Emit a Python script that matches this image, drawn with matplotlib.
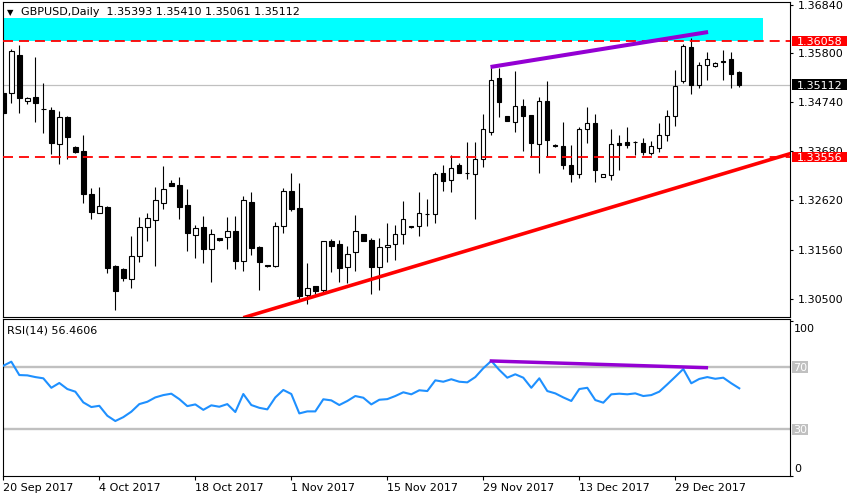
import matplotlib
matplotlib.use("Agg")
import matplotlib.pyplot as plt
from matplotlib.patches import Rectangle
from matplotlib.transforms import blended_transform_factory
import numpy as np

plt.rcParams['font.family'] = ['DejaVu Sans']
plt.rcParams['font.size'] = 8
plt.rcParams['lines.scale_dashes'] = False

# GBPUSD daily candles (oldest first)
opens = [1.3494, 1.3493, 1.3576, 1.3476, 1.3484, 1.3460, 1.3457, 1.3383, 1.3442, 1.3378,
         1.3369, 1.3275, 1.3234, 1.3247, 1.3120, 1.3114, 1.3092, 1.3141, 1.3204, 1.3220,
         1.3256, 1.3299, 1.3295, 1.3252, 1.3188, 1.3205, 1.3157, 1.3180, 1.3182, 1.3197,
         1.3131, 1.3258, 1.3161, 1.3122, 1.3120, 1.3206, 1.3282, 1.3245, 1.3059, 1.3077,
         1.3068, 1.3174, 1.3167, 1.3118, 1.3150, 1.3189, 1.3176, 1.3118, 1.3161, 1.3167,
         1.3189, 1.3206, 1.3206, 1.3233, 1.3232, 1.3321, 1.3307, 1.3338, 1.3321, 1.3318,
         1.3351, 1.3410, 1.3525, 1.3444, 1.3432, 1.3466, 1.3446, 1.3383, 1.3476, 1.3381,
         1.3379, 1.3338, 1.3318, 1.3417, 1.3429, 1.3312, 1.3317, 1.3386, 1.3388, 1.3388,
         1.3385, 1.3365, 1.3376, 1.3402, 1.3443, 1.3520, 1.3593, 1.3510, 1.3553, 1.3551,
         1.3563, 1.3567, 1.35393]
highs = [1.3500, 1.3588, 1.3597, 1.3486, 1.3572, 1.3516, 1.3463, 1.3454, 1.3444, 1.3380,
         1.3403, 1.3288, 1.3290, 1.3250, 1.3123, 1.3117, 1.3185, 1.3226, 1.3235, 1.3291,
         1.3336, 1.3306, 1.3312, 1.3287, 1.3209, 1.3228, 1.3200, 1.3180, 1.3226, 1.3228,
         1.3271, 1.3280, 1.3164, 1.3123, 1.3215, 1.3288, 1.3321, 1.3299, 1.3128, 1.3077,
         1.3174, 1.3178, 1.3176, 1.3164, 1.3230, 1.3190, 1.3180, 1.3180, 1.3213, 1.3208,
         1.3261, 1.3207, 1.3280, 1.3266, 1.3324, 1.3338, 1.3360, 1.3343, 1.3388, 1.3388,
         1.3448, 1.3550, 1.3547, 1.3444, 1.3540, 1.3481, 1.3446, 1.3484, 1.3519, 1.3383,
         1.3431, 1.3381, 1.3421, 1.3463, 1.3448, 1.3318, 1.3417, 1.3402, 1.3420, 1.3389,
         1.3396, 1.3389, 1.3428, 1.3457, 1.3543, 1.3599, 1.3612, 1.3560, 1.3581, 1.3560,
         1.3586, 1.3581, 1.35410]
lows = [1.3446, 1.3472, 1.3450, 1.3469, 1.3430, 1.3408, 1.3362, 1.3340, 1.3351, 1.3364,
        1.3256, 1.3222, 1.3234, 1.3106, 1.3026, 1.3089, 1.3074, 1.3130, 1.3175, 1.3121,
        1.3243, 1.3292, 1.3222, 1.3153, 1.3138, 1.3128, 1.3087, 1.3175, 1.3158, 1.3113,
        1.3110, 1.3145, 1.3069, 1.3118, 1.3118, 1.3191, 1.3239, 1.3047, 1.3039, 1.3060,
        1.3062, 1.3108, 1.3085, 1.3084, 1.3110, 1.3174, 1.3061, 1.3069, 1.3130, 1.3134,
        1.3168, 1.3203, 1.3186, 1.3207, 1.3213, 1.3283, 1.3279, 1.3320, 1.3308, 1.3221,
        1.3335, 1.3404, 1.3442, 1.3433, 1.3410, 1.3369, 1.3356, 1.3320, 1.3356, 1.3378,
        1.3330, 1.3302, 1.3311, 1.3385, 1.3302, 1.3312, 1.3307, 1.3328, 1.3376, 1.3360,
        1.3360, 1.3360, 1.3367, 1.3390, 1.3423, 1.3516, 1.3492, 1.3505, 1.3522, 1.3550,
        1.3522, 1.3504, 1.35061]
closes = [1.3450, 1.3584, 1.3483, 1.3483, 1.3471, 1.3459, 1.3386, 1.3441, 1.3398, 1.3367,
          1.3275, 1.3238, 1.3249, 1.3117, 1.3067, 1.3095, 1.3141, 1.3204, 1.3225, 1.3262,
          1.3286, 1.3292, 1.3248, 1.3192, 1.3202, 1.3158, 1.3189, 1.3177, 1.3197, 1.3132,
          1.3262, 1.3160, 1.3130, 1.3121, 1.3206, 1.3282, 1.3243, 1.3056, 1.3072, 1.3067,
          1.3174, 1.3164, 1.3117, 1.3147, 1.3195, 1.3175, 1.3119, 1.3161, 1.3165, 1.3189,
          1.3221, 1.3205, 1.3234, 1.3232, 1.3319, 1.3304, 1.3331, 1.3320, 1.3320, 1.3351,
          1.3415, 1.3521, 1.3475, 1.3433, 1.3465, 1.3445, 1.3385, 1.3476, 1.3392, 1.3380,
          1.3338, 1.3318, 1.3417, 1.3429, 1.3327, 1.3318, 1.3383, 1.3382, 1.3382, 1.3387,
          1.3367, 1.3379, 1.3402, 1.3443, 1.3508, 1.3596, 1.3511, 1.3553, 1.3566, 1.3558,
          1.3560, 1.3535, 1.35112]

rsi = [71.0, 73.6, 65.0, 64.8, 63.7, 62.9, 56.8, 59.9, 56.0, 54.3,
       47.4, 44.4, 45.2, 38.8, 35.4, 37.9, 41.4, 46.3, 47.8, 50.6,
       52.1, 53.0, 49.5, 45.0, 46.1, 42.6, 45.5, 44.6, 46.3, 41.2,
       52.8, 45.7, 43.9, 42.9, 50.6, 55.4, 52.8, 40.3, 41.6, 41.6,
       49.4, 48.7, 45.7, 48.3, 51.5, 50.4, 46.1, 49.1, 49.5, 51.5,
       53.9, 52.6, 55.2, 54.7, 61.6, 60.7, 62.3, 60.7, 60.3, 63.7,
       69.4, 74.1, 68.3, 63.3, 65.5, 63.3, 56.8, 62.9, 54.7, 53.2,
       50.6, 48.3, 56.0, 56.8, 48.9, 47.2, 52.6, 53.0, 52.6, 53.2,
       51.5, 52.1, 54.3, 59.0, 63.9, 68.9, 59.7, 62.5, 63.7, 62.6,
       63.3, 59.7, 56.46]

date_idx = [0, 12, 24, 36, 48, 60, 72, 84]
date_labels = ['20 Sep 2017', '4 Oct 2017', '18 Oct 2017', '1 Nov 2017',
               '15 Nov 2017', '29 Nov 2017', '13 Dec 2017', '29 Dec 2017']
price_ticks = [1.30500, 1.31560, 1.32620, 1.33680, 1.34740, 1.35800, 1.36840]

resistance = 1.36058
support = 1.33556
last_price = 1.35112
zone_top = 1.36553
zone_end = 95

purple_x = [60.9, 88.1]
purple_y = [1.35497, 1.36251]
trend_x = [30, 98.5]
trend_y = [1.30090, 1.33635]
rsi_div_x = [60.8, 88.1]
rsi_div_y = [74.1, 69.7]

W, H = 850, 500
def px_box(l, t, r, b):
    return [l / W, 1 - b / H, (r - l) / W, (b - t) / H]

fig = plt.figure(figsize=(8.5, 5), dpi=100)
ax = fig.add_axes(px_box(3, 2, 790, 317.3))
ax2 = fig.add_axes(px_box(3, 319.3, 790, 476))

x = np.arange(len(opens))
o, h, l, c = map(np.array, (opens, highs, lows, closes))
up = c >= o

# --- price panel ---
ax.add_patch(Rectangle((-1, resistance), zone_end + 1, zone_top - resistance,
                       facecolor='#00FFFF', edgecolor='none', zorder=0.5))
ax.axhline(last_price, color='#C0C0C0', lw=0.9, zorder=1)
ax.vlines(x, l, h, color='black', lw=0.8, zorder=3)
ax.bar(x[up], (c - o)[up], bottom=o[up], width=0.55, facecolor='white',
       edgecolor='black', lw=0.8, zorder=4)
ax.bar(x[~up], (o - c)[~up], bottom=c[~up], width=0.55, facecolor='black',
       edgecolor='black', lw=0.8, zorder=4)
for lvl in (resistance, support):
    ax.axhline(lvl, color='#FF0000', lw=1.3, linestyle=(0, (7.2, 4.3)), zorder=5)
ax.plot(purple_x, purple_y, color='#9400D3', lw=2.9, solid_capstyle='butt', zorder=6)
ax.plot(trend_x, trend_y, color='red', lw=2.6, solid_capstyle='butt', zorder=6)

ax.set_xlim(-0.04, 98.34)
ax.set_ylim(1.300985, 1.368983)
ax.yaxis.tick_right()
ax.set_yticks(price_ticks)
ax.set_yticklabels([f'{t:.5f}' for t in price_ticks])
ax.tick_params(axis='y', direction='out', length=2.5, width=0.8, pad=3, labelsize=8, colors='black')
ax.tick_params(axis='x', bottom=False, labelbottom=False)
for s in ax.spines.values():
    s.set_linewidth(0.8)

trans = blended_transform_factory(ax.transAxes, ax.transData)
for val, col in [(resistance, 'red'), (last_price, 'black'), (support, 'red')]:
    ax.add_patch(Rectangle((1.0025, val - 0.00116), 0.0699, 0.00232, transform=trans,
                           facecolor=col, edgecolor='none', clip_on=False, zorder=10))
    ax.text(1.0089, val, f'{val:.5f}', transform=trans, color='white', fontsize=8,
            va='center_baseline', ha='left', clip_on=False, zorder=11)

fig.text(7 / W, 1 - 12.3 / H, '\u25bc', fontsize=6, va='center', ha='left')
fig.text(21 / W, 1 - 12.3 / H, 'GBPUSD,Daily  1.35393 1.35410 1.35061 1.35112',
         fontsize=8, va='center', ha='left')

# --- RSI panel ---
for lvl in (70, 30):
    ax2.axhline(lvl, color='#C0C0C0', lw=1.7, zorder=1)
ax2.plot(x, rsi, color='#1E90FF', lw=1.5, zorder=3)
ax2.plot(rsi_div_x, rsi_div_y, color='#9400D3', lw=2.5, solid_capstyle='butt', zorder=4)
ax2.set_xlim(ax.get_xlim())
ax2.set_ylim(0, 100.9)
ax2.yaxis.tick_right()
ax2.set_yticks([0, 100])
ax2.set_yticklabels([])
ax2.tick_params(axis='y', direction='out', length=2.5, width=0.8)
ax2.set_xticks(date_idx)
ax2.set_xticklabels(date_labels, ha='left')
ax2.tick_params(axis='x', direction='out', length=3, width=0.8, pad=2, labelsize=8)
for s in ax2.spines.values():
    s.set_linewidth(0.8)

trans2 = blended_transform_factory(ax2.transAxes, ax2.transData)
for lvl in (70, 30):
    ax2.add_patch(Rectangle((1.0022, lvl - 3.75), 0.0203, 7.5, transform=trans2,
                            facecolor='#C0C0C0', edgecolor='none', clip_on=False, zorder=10))
    ax2.text(1.0040, lvl, str(lvl), transform=trans2, color='white', fontsize=8,
             va='center_baseline', ha='left', clip_on=False, zorder=11)
ax2.text(1.0050, 98, '100', transform=trans2, fontsize=8, va='top', ha='left', clip_on=False)
ax2.text(1.0050, 1.5, '0', transform=trans2, fontsize=8, va='bottom', ha='left', clip_on=False)
ax2.text(0.005, 0.93, 'RSI(14) 56.4606', transform=ax2.transAxes, fontsize=8,
         va='center', ha='left')

fig.savefig('out.png', dpi=100)
